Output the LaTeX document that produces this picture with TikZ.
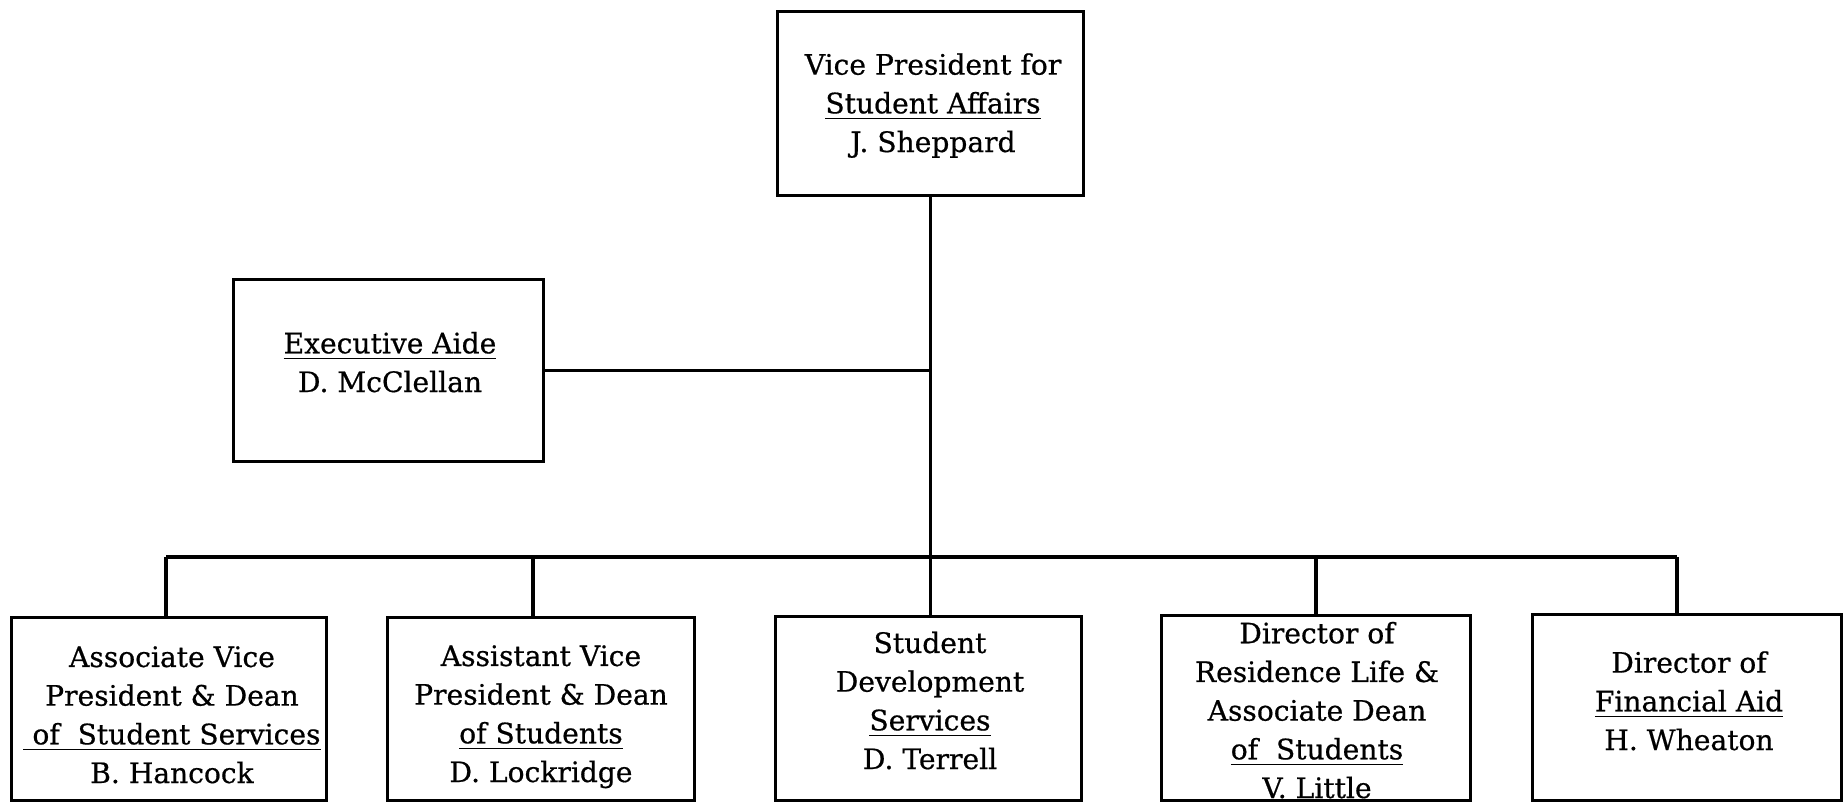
\documentclass[tikz,border=0pt]{standalone}
\usepackage{fontspec}
\setmainfont{DejaVu Serif}[FakeBold=0.6]
\begin{document}
\begin{tikzpicture}[x=0.01cm,y=-0.01cm,
  box/.style={draw,line width=1pt,inner sep=0pt},
  lbl/.style={align=center,anchor=base,font=\fontsize{8}{11}\selectfont,inner sep=0pt},
  wire/.style={line width=1pt}]
\useasboundingbox (0,0) rectangle (1845,803);
% boxes
\node[box,minimum width=3.06cm,minimum height=1.84cm] (vp) at (930.5,103.5) {};
\node[box,minimum width=3.10cm,minimum height=1.82cm] (ea) at (388.5,370.5) {};
\node[box,minimum width=3.15cm,minimum height=1.83cm] (b1) at (169,709) {};
\node[box,minimum width=3.07cm,minimum height=1.83cm] (b2) at (541,709) {};
\node[box,minimum width=3.06cm,minimum height=1.84cm] (b3) at (928.5,708.5) {};
\node[box,minimum width=3.09cm,minimum height=1.85cm] (b4) at (1316,708) {};
\node[box,minimum width=3.09cm,minimum height=1.86cm] (b5) at (1687,707.5) {};
% labels (anchor = baseline of last line)
\node[lbl] (tvp) at (933,152) {Vice President for\\\underline{Student Affairs}\\J. Sheppard};
\node[lbl] (tea) at (390,392) {\underline{Executive Aide}\\D. McClellan};
\node[lbl] (tb1) at (172,783) {Associate Vice\\President \& Dean\\\underline{\ of~ Student Services}\\B. Hancock};
\node[lbl] (tb2) at (541,782) {Assistant Vice\\President \& Dean\\\underline{of Students}\\D. Lockridge};
\node[lbl] (tb3) at (930,769) {Student\\Development\\\underline{Services}\\D. Terrell};
\node[lbl] (tb4) at (1317,798) {Director of\\Residence Life \&\\Associate Dean\\\underline{of~ Students}\\V. Little};
\node[lbl] (tb5) at (1689,750) {Director of\\\underline{Financial Aid}\\H. Wheaton};
% connectors
\coordinate (busL) at (166,557);
\coordinate (busR) at (1677,557);
\coordinate (j2) at (533,557);
\draw[wire] (busL) -- (busR);
\draw[wire] (vp.south) -- (vp.south |- b3.north);
\draw[wire] (ea.east) -- (ea.east -| vp.south);
\draw[wire] (busL) -- (busL |- b1.north);
\draw[wire] (j2) -- (j2 |- b2.north);
\draw[wire] (b4.north) -- (b4.north |- busR);
\draw[wire] (busR) -- (busR |- b5.north);
\end{tikzpicture}
\end{document}
